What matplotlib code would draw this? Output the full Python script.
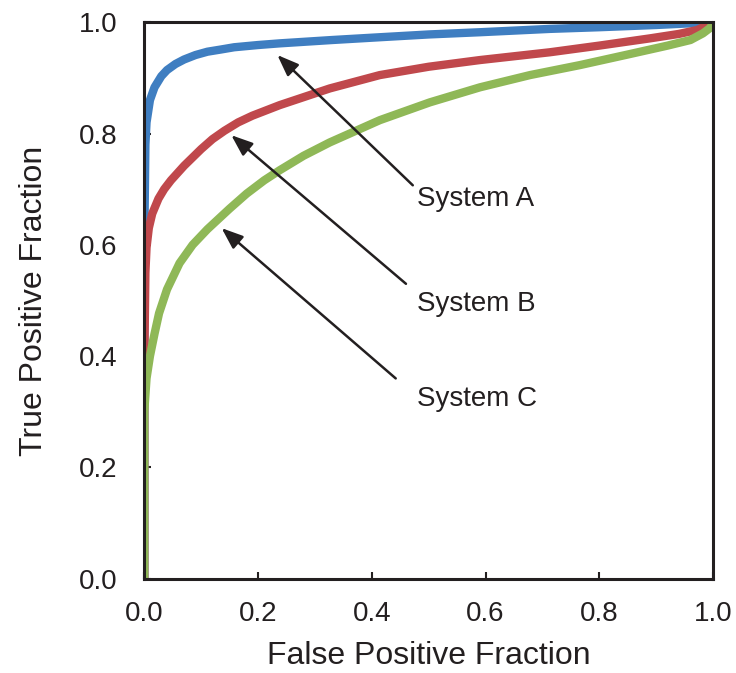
import matplotlib
matplotlib.use("Agg")
import matplotlib.pyplot as plt

plt.rcParams['font.family'] = ['Liberation Sans', 'DejaVu Sans']

# ROC curves
fpf_a = [0, 0.0, 0.002, 0.004, 0.01, 0.018, 0.03, 0.04, 0.055, 0.07, 0.09, 0.111,
         0.135, 0.158, 0.2, 0.238, 0.33, 0.414, 0.5, 0.59, 0.713, 0.8, 0.9, 1.0]
tpf_a = [0, 0.6, 0.78, 0.82, 0.86, 0.883, 0.903, 0.914, 0.925, 0.933, 0.941, 0.947,
         0.951, 0.955, 0.959, 0.962, 0.968, 0.973, 0.978, 0.982, 0.988, 0.991, 0.995, 1.0]

fpf_b = [0, 0.0, 0.002, 0.004, 0.008, 0.014, 0.025, 0.035, 0.047, 0.07, 0.1, 0.12,
         0.141, 0.165, 0.19, 0.238, 0.326, 0.414, 0.5, 0.59, 0.713, 0.8, 0.889, 0.94,
         0.972, 1.0]
tpf_b = [0, 0.38, 0.55, 0.595, 0.63, 0.656, 0.683, 0.70, 0.716, 0.742, 0.772, 0.79,
         0.805, 0.82, 0.832, 0.851, 0.881, 0.905, 0.92, 0.932, 0.946, 0.958, 0.971, 0.979,
         0.986, 1.0]

fpf_c = [0, 0.0, 0.004, 0.01, 0.018, 0.026, 0.04, 0.062, 0.085, 0.111, 0.15, 0.18,
         0.211, 0.238, 0.28, 0.326, 0.414, 0.502, 0.59, 0.678, 0.766, 0.85, 0.92, 0.96,
         0.982, 0.995, 1.0]
tpf_c = [0, 0.30, 0.36, 0.40, 0.44, 0.477, 0.52, 0.567, 0.60, 0.628, 0.665, 0.692,
         0.716, 0.734, 0.76, 0.784, 0.824, 0.856, 0.883, 0.905, 0.923, 0.942, 0.958, 0.968,
         0.98, 0.99, 1.0]

labels = ['System A', 'System B', 'System C']
label_pos = [(0.479, 0.670), (0.479, 0.482), (0.479, 0.311)]
arrow_tail = [(0.472, 0.707), (0.46, 0.53), (0.442, 0.36)]
arrow_head = [(0.234, 0.941), (0.153, 0.797), (0.136, 0.63)]

ticks = [0.0, 0.2, 0.4, 0.6, 0.8, 1.0]
ink = '#231F20'

fig = plt.figure(figsize=(7.36, 6.73), dpi=100)
ax = fig.add_axes([0.196, 0.140, 0.773, 0.827])

ax.plot(fpf_a, tpf_a, color='#3F7EC1', lw=6, solid_capstyle='round',
        solid_joinstyle='round', zorder=2)
ax.plot(fpf_b, tpf_b, color='#C0484C', lw=6, solid_capstyle='round',
        solid_joinstyle='round', zorder=3)
ax.plot(fpf_c, tpf_c, color='#8FB857', lw=6, solid_capstyle='round',
        solid_joinstyle='round', zorder=4)

for lab, pos, tail, head in zip(labels, label_pos, arrow_tail, arrow_head):
    ax.annotate('', xy=head, xytext=tail,
                arrowprops=dict(arrowstyle='-|>,head_length=1.3,head_width=0.5',
                                color=ink, lw=1.8, shrinkA=0, shrinkB=0),
                zorder=5)
    ax.text(pos[0], pos[1], lab, fontsize=20, color=ink, va='baseline', ha='left')

ax.set_xlim(0, 1)
ax.set_ylim(0, 1)
ax.set_xticks(ticks)
ax.set_yticks(ticks)
ax.set_xticklabels(['%.1f' % t for t in ticks])
ax.set_yticklabels(['%.1f' % t for t in ticks])
ax.tick_params(direction='in', length=5, width=1.5, labelsize=20, colors=ink)
ax.tick_params(axis='x', pad=16)
ax.tick_params(axis='y', pad=19)
for s in ax.spines.values():
    s.set_linewidth(2.2)
    s.set_color(ink)
    s.set_zorder(6)

ax.set_xlabel('False Positive Fraction', fontsize=23, color=ink, labelpad=10)
ax.set_ylabel('True Positive Fraction', fontsize=23, color=ink, labelpad=22)

fig.savefig('out.png', dpi=100)
